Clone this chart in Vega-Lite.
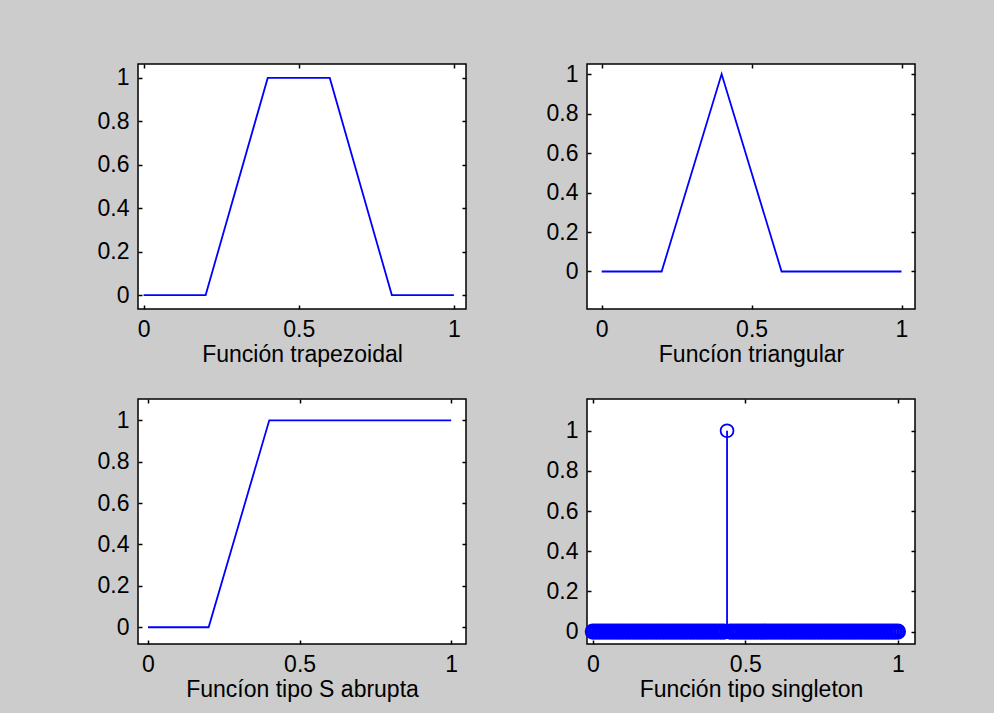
{
  "$schema": "https://vega.github.io/schema/vega-lite/v6.json",
  "background": "#cccccc",
  "padding": {"left": 96, "top": 62, "right": 80, "bottom": 30},
  "bounds": "flush",
  "spacing": {"row": 90, "column": 121},
  "columns": 2,
  "datasets": {
    "trap": [{"x": 0, "y": 0}, {"x": 0.2, "y": 0}, {"x": 0.4, "y": 1}, {"x": 0.6, "y": 1}, {"x": 0.8, "y": 0}, {"x": 1, "y": 0}],
    "tri": [{"x": 0, "y": 0}, {"x": 0.2, "y": 0}, {"x": 0.4, "y": 1}, {"x": 0.6, "y": 0}, {"x": 1, "y": 0}],
    "sab": [{"x": 0, "y": 0}, {"x": 0.2, "y": 0}, {"x": 0.4, "y": 1}, {"x": 1, "y": 1}],
    "single": [
      {"x": 0, "y": 0}, {"x": 0.01, "y": 0}, {"x": 0.02, "y": 0}, {"x": 0.03, "y": 0}, {"x": 0.04, "y": 0}, {"x": 0.05, "y": 0}, {"x": 0.06, "y": 0}, {"x": 0.07, "y": 0}, {"x": 0.08, "y": 0}, {"x": 0.09, "y": 0},
      {"x": 0.1, "y": 0}, {"x": 0.11, "y": 0}, {"x": 0.12, "y": 0}, {"x": 0.13, "y": 0}, {"x": 0.14, "y": 0}, {"x": 0.15, "y": 0}, {"x": 0.16, "y": 0}, {"x": 0.17, "y": 0}, {"x": 0.18, "y": 0}, {"x": 0.19, "y": 0},
      {"x": 0.2, "y": 0}, {"x": 0.21, "y": 0}, {"x": 0.22, "y": 0}, {"x": 0.23, "y": 0}, {"x": 0.24, "y": 0}, {"x": 0.25, "y": 0}, {"x": 0.26, "y": 0}, {"x": 0.27, "y": 0}, {"x": 0.28, "y": 0}, {"x": 0.29, "y": 0},
      {"x": 0.3, "y": 0}, {"x": 0.31, "y": 0}, {"x": 0.32, "y": 0}, {"x": 0.33, "y": 0}, {"x": 0.34, "y": 0}, {"x": 0.35, "y": 0}, {"x": 0.36, "y": 0}, {"x": 0.37, "y": 0}, {"x": 0.38, "y": 0}, {"x": 0.39, "y": 0},
      {"x": 0.4, "y": 0}, {"x": 0.41, "y": 0}, {"x": 0.42, "y": 0}, {"x": 0.43, "y": 0}, {"x": 0.44, "y": 1}, {"x": 0.45, "y": 0}, {"x": 0.46, "y": 0}, {"x": 0.47, "y": 0}, {"x": 0.48, "y": 0}, {"x": 0.49, "y": 0},
      {"x": 0.5, "y": 0}, {"x": 0.51, "y": 0}, {"x": 0.52, "y": 0}, {"x": 0.53, "y": 0}, {"x": 0.54, "y": 0}, {"x": 0.55, "y": 0}, {"x": 0.56, "y": 0}, {"x": 0.57, "y": 0}, {"x": 0.58, "y": 0}, {"x": 0.59, "y": 0},
      {"x": 0.6, "y": 0}, {"x": 0.61, "y": 0}, {"x": 0.62, "y": 0}, {"x": 0.63, "y": 0}, {"x": 0.64, "y": 0}, {"x": 0.65, "y": 0}, {"x": 0.66, "y": 0}, {"x": 0.67, "y": 0}, {"x": 0.68, "y": 0}, {"x": 0.69, "y": 0},
      {"x": 0.7, "y": 0}, {"x": 0.71, "y": 0}, {"x": 0.72, "y": 0}, {"x": 0.73, "y": 0}, {"x": 0.74, "y": 0}, {"x": 0.75, "y": 0}, {"x": 0.76, "y": 0}, {"x": 0.77, "y": 0}, {"x": 0.78, "y": 0}, {"x": 0.79, "y": 0},
      {"x": 0.8, "y": 0}, {"x": 0.81, "y": 0}, {"x": 0.82, "y": 0}, {"x": 0.83, "y": 0}, {"x": 0.84, "y": 0}, {"x": 0.85, "y": 0}, {"x": 0.86, "y": 0}, {"x": 0.87, "y": 0}, {"x": 0.88, "y": 0}, {"x": 0.89, "y": 0},
      {"x": 0.9, "y": 0}, {"x": 0.91, "y": 0}, {"x": 0.92, "y": 0}, {"x": 0.93, "y": 0}, {"x": 0.94, "y": 0}, {"x": 0.95, "y": 0}, {"x": 0.96, "y": 0}, {"x": 0.97, "y": 0}, {"x": 0.98, "y": 0}, {"x": 0.99, "y": 0},
      {"x": 1, "y": 0}
    ]
  },
  "config": {
    "font": "Liberation Sans",
    "view": {"fill": "white", "stroke": "black", "strokeWidth": 1.5},
    "axis": {
      "grid": false, "domain": false,
      "tickColor": "black", "tickWidth": 1.5, "tickSize": -4,
      "labelFont": "Liberation Sans", "labelFontSize": 23, "labelColor": "black", "labelPadding": 13,
      "labelFlush": false, "labelOverlap": false,
      "titleFont": "Liberation Sans", "titleFontSize": 23, "titleFontWeight": "normal", "titleColor": "black", "titlePadding": 2
    }
  },
  "concat": [
    {
      "width": 328, "height": 245,
      "data": {"name": "trap"},
      "layer": [
        {
          "mark": {"type": "line", "color": "#0000ff", "strokeWidth": 1.8},
          "encoding": {
            "x": {"field": "x", "type": "quantitative", "scale": {"domain": [-0.018, 1.039], "nice": false, "zero": false}, "axis": {"orient": "bottom", "values": [0, 0.5, 1], "format": "~g", "title": "Función trapezoidal"}},
            "y": {"field": "y", "type": "quantitative", "scale": {"domain": [-0.064, 1.064], "nice": false, "zero": false}, "axis": {"orient": "left", "values": [0, 0.2, 0.4, 0.6, 0.8, 1], "format": "~g", "title": null}}
          }
        },
        {
          "mark": {"type": "line", "strokeOpacity": 0},
          "encoding": {
            "x": {"field": "x", "type": "quantitative", "axis": {"orient": "top", "values": [0, 0.5, 1], "labels": false, "title": null}},
            "y": {"field": "y", "type": "quantitative", "axis": {"orient": "right", "values": [0, 0.2, 0.4, 0.6, 0.8, 1], "labels": false, "title": null}}
          }
        }
      ],
      "resolve": {"axis": {"x": "independent", "y": "independent"}}
    },
    {
      "width": 328, "height": 245,
      "data": {"name": "tri"},
      "layer": [
        {
          "mark": {"type": "line", "color": "#0000ff", "strokeWidth": 1.8},
          "encoding": {
            "x": {"field": "x", "type": "quantitative", "scale": {"domain": [-0.049, 1.045], "nice": false, "zero": false}, "axis": {"orient": "bottom", "values": [0, 0.5, 1], "format": "~g", "title": "Funcíon triangular"}},
            "y": {"field": "y", "type": "quantitative", "scale": {"domain": [-0.19, 1.051], "nice": false, "zero": false}, "axis": {"orient": "left", "values": [0, 0.2, 0.4, 0.6, 0.8, 1], "format": "~g", "title": null}}
          }
        },
        {
          "mark": {"type": "line", "strokeOpacity": 0},
          "encoding": {
            "x": {"field": "x", "type": "quantitative", "axis": {"orient": "top", "values": [0, 0.5, 1], "labels": false, "title": null}},
            "y": {"field": "y", "type": "quantitative", "axis": {"orient": "right", "values": [0, 0.2, 0.4, 0.6, 0.8, 1], "labels": false, "title": null}}
          }
        }
      ],
      "resolve": {"axis": {"x": "independent", "y": "independent"}}
    },
    {
      "width": 328, "height": 245,
      "data": {"name": "sab"},
      "layer": [
        {
          "mark": {"type": "line", "color": "#0000ff", "strokeWidth": 1.8},
          "encoding": {
            "x": {"field": "x", "type": "quantitative", "scale": {"domain": [-0.033, 1.049], "nice": false, "zero": false}, "axis": {"orient": "bottom", "values": [0, 0.5, 1], "format": "~g", "title": "Funcíon tipo S abrupta"}},
            "y": {"field": "y", "type": "quantitative", "scale": {"domain": [-0.081, 1.103], "nice": false, "zero": false}, "axis": {"orient": "left", "values": [0, 0.2, 0.4, 0.6, 0.8, 1], "format": "~g", "title": null}}
          }
        },
        {
          "mark": {"type": "line", "strokeOpacity": 0},
          "encoding": {
            "x": {"field": "x", "type": "quantitative", "axis": {"orient": "top", "values": [0, 0.5, 1], "labels": false, "title": null}},
            "y": {"field": "y", "type": "quantitative", "axis": {"orient": "right", "values": [0, 0.2, 0.4, 0.6, 0.8, 1], "labels": false, "title": null}}
          }
        }
      ],
      "resolve": {"axis": {"x": "independent", "y": "independent"}}
    },
    {
      "width": 328, "height": 245,
      "data": {"name": "single"},
      "layer": [
        {
          "mark": {"type": "rule", "color": "#0000ff", "strokeWidth": 1.8},
          "encoding": {
            "x": {"field": "x", "type": "quantitative", "scale": {"domain": [-0.019, 1.056], "nice": false, "zero": false}, "axis": {"orient": "bottom", "values": [0, 0.5, 1], "format": "~g", "title": "Función tipo singleton"}},
            "y": {"field": "y", "type": "quantitative", "scale": {"domain": [-0.062, 1.158], "nice": false, "zero": false}, "axis": {"orient": "left", "values": [0, 0.2, 0.4, 0.6, 0.8, 1], "format": "~g", "title": null}},
            "y2": {"datum": 0}
          }
        },
        {
          "mark": {"type": "point", "shape": "circle", "filled": false, "color": "#0000ff", "size": 165, "opacity": 1},
          "encoding": {
            "x": {"field": "x", "type": "quantitative", "axis": {"orient": "top", "values": [0, 0.5, 1], "labels": false, "title": null}},
            "y": {"field": "y", "type": "quantitative", "axis": {"orient": "right", "values": [0, 0.2, 0.4, 0.6, 0.8, 1], "labels": false, "title": null}},
            "strokeWidth": {"condition": {"test": "datum.y > 0", "value": 1.8}, "value": 3.4}
          }
        }
      ],
      "resolve": {"axis": {"x": "independent", "y": "independent"}}
    }
  ]
}
